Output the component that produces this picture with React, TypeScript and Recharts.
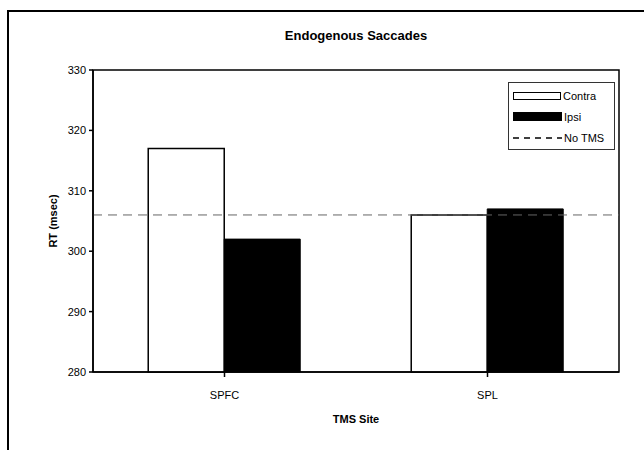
import React from "react";
import {
  BarChart,
  Bar,
  XAxis,
  YAxis,
  ReferenceLine,
  ReferenceArea,
} from "recharts";

const sites = ["SPFC", "SPL"];
const contra = [317, 306];
const ipsi = [302, 307];
const noTms = 306;
const yTicks = [280, 290, 300, 310, 320, 330];

const data = sites.map((site, i) => ({ site, contra: contra[i], ipsi: ipsi[i] }));

const font = "'Liberation Sans', Arial, sans-serif";

function LegendBox() {
  const row = { display: "flex", alignItems: "center", height: 21 } as const;
  return (
    <div
      style={{
        position: "absolute",
        left: 508,
        top: 82,
        border: "1px solid #333",
        background: "#fff",
        width: 107,
        height: 68,
        boxSizing: "border-box",
        padding: "2px 0 0 4px",
        fontFamily: font,
        fontSize: 11,
        color: "#000",
      }}
    >
      <div style={row}>
        <div style={{ width: 46, height: 6, border: "1.5px solid #000", background: "#fff" }} />
        <span style={{ marginLeft: 2 }}>Contra</span>
      </div>
      <div style={row}>
        <div style={{ width: 49, height: 9, background: "#000" }} />
        <span style={{ marginLeft: 2 }}>Ipsi</span>
      </div>
      <div style={row}>
        <svg width={49} height={4}>
          <line x1={0} y1={2} x2={49} y2={2} stroke="#000" strokeWidth={1.5} strokeDasharray="6 5" />
        </svg>
        <span style={{ marginLeft: 2 }}>No TMS</span>
      </div>
    </div>
  );
}

export default function App() {
  return (
    <div
      style={{
        position: "fixed",
        left: 0,
        top: 0,
        width: 644,
        height: 450,
        overflow: "hidden",
        background: "#fff",
      }}
    >
      <div
        style={{
          position: "absolute",
          left: 7,
          top: 10,
          width: 680,
          height: 480,
          border: "2px solid #000",
        }}
      />
      <div
        style={{
          position: "absolute",
          left: 93,
          width: 526,
          top: 28,
          textAlign: "center",
          fontFamily: font,
          fontWeight: "bold",
          fontSize: 13,
          color: "#000",
        }}
      >
        Endogenous Saccades
      </div>
      <div style={{ position: "absolute", left: 0, top: 0 }}>
        <BarChart
          width={644}
          height={450}
          data={data}
          margin={{ top: 70, right: 25, bottom: 28, left: 43 }}
          barCategoryGap="21%"
          barGap={0}
          style={{ fontFamily: font }}
        >
          <XAxis
            dataKey="site"
            stroke="#000"
            strokeWidth={1.5}
            tickSize={5}
            tickMargin={14}
            height={50}
            tick={{ fill: "#000", fontSize: 11 }}
            label={{
              value: "TMS Site",
              position: "insideBottom",
              offset: -1,
              fill: "#000",
              fontSize: 11,
              fontWeight: "bold",
            }}
          />
          <YAxis
            domain={[280, 330]}
            ticks={yTicks}
            width={50}
            stroke="#000"
            strokeWidth={1.5}
            tickSize={4}
            tickMargin={3}
            tick={{ fill: "#000", fontSize: 11 }}
            label={{
              value: "RT (msec)",
              angle: -90,
              position: "insideLeft",
              offset: 10,
              fill: "#000",
              fontSize: 11,
              fontWeight: "bold",
              style: { textAnchor: "middle" },
            }}
          />
          <Bar dataKey="contra" name="Contra" fill="#fff" stroke="#000" strokeWidth={1.5} isAnimationActive={false} />
          <Bar dataKey="ipsi" name="Ipsi" fill="#000" stroke="#000" strokeWidth={1} isAnimationActive={false} />
          <ReferenceLine y={noTms} stroke="#666" strokeWidth={1} strokeDasharray="9 6" />
          <ReferenceArea y1={280} y2={330} fill="none" stroke="#000" strokeWidth={1.5} ifOverflow="visible" />
        </BarChart>
      </div>
      <LegendBox />
    </div>
  );
}
